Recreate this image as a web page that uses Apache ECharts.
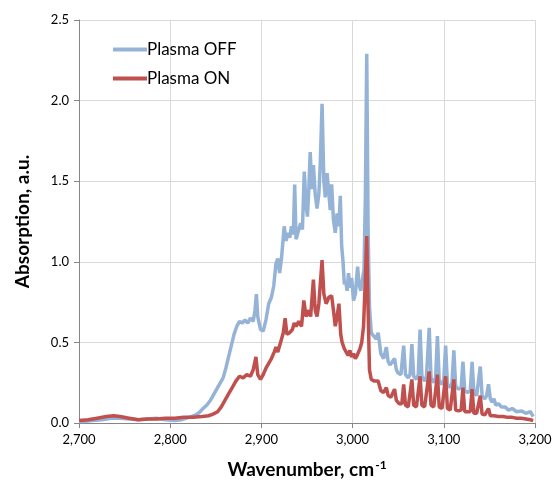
<!DOCTYPE html>
<html>
<head>
<meta charset="utf-8">
<script src="https://cdn.jsdelivr.net/npm/echarts@6/dist/echarts.min.js"></script>
<style>
  html, body { margin: 0; padding: 0; background: #fff; }
  #chart { width: 556px; height: 489px; }
</style>
</head>
<body>
<div id="chart"></div>
<script>
// tick labels
const xTicks = [2700, 2800, 2900, 3000, 3100, 3200]
const yTicks = [0, 0.5, 1.0, 1.5, 2.0, 2.5]

// Plasma OFF
const offX = [2700, 2705, 2715, 2725, 2735, 2745, 2755, 2765, 2775, 2785, 2795, 2805, 2812, 2818, 2823, 2828, 2832, 2836, 2840, 2844,
  2847, 2851, 2855, 2858, 2861, 2864, 2867, 2870, 2873, 2876, 2879, 2882, 2885, 2888, 2891, 2893, 2894.5, 2896, 2899, 2902,
  2905, 2908, 2911, 2913.5, 2916, 2918, 2920, 2922, 2925, 2927, 2929, 2931, 2933, 2935, 2936.5, 2938, 2940, 2943, 2945, 2947,
  2949, 2950.5, 2952, 2953.5, 2955.5, 2957, 2959, 2961, 2963, 2964.5, 2966.5, 2968.5, 2970, 2972, 2974, 2975.5, 2977, 2979, 2981, 2983,
  2985, 2986.5, 2988, 2989.5, 2991, 2992.5, 2994, 2995.5, 2997, 2999, 3001, 3003, 3005.5, 3007, 3009, 3011, 3012.5, 3014, 3015.5, 3017,
  3018.5, 3020.5, 3023, 3026, 3028, 3031, 3034, 3037, 3039, 3041, 3043, 3046, 3048, 3050, 3053, 3056, 3058, 3061, 3063, 3065,
  3067, 3070, 3072, 3074, 3076, 3079, 3081, 3084, 3086, 3089, 3091, 3093, 3095, 3098, 3100, 3102, 3104, 3107, 3109, 3111,
  3113, 3116, 3119, 3121, 3123, 3126, 3129, 3131, 3133, 3136, 3138, 3140, 3142, 3145, 3147, 3149, 3151, 3153, 3155, 3157,
  3160, 3163, 3167, 3171, 3175, 3180, 3185, 3190, 3195, 3198]
const offY = [0.01, 0.01, 0.015, 0.02, 0.03, 0.03, 0.025, 0.02, 0.025, 0.03, 0.02, 0.015, 0.02, 0.03, 0.04, 0.05, 0.065, 0.09, 0.11, 0.14,
  0.17, 0.21, 0.25, 0.28, 0.34, 0.41, 0.48, 0.55, 0.60, 0.63, 0.62, 0.64, 0.62, 0.65, 0.63, 0.70, 0.80, 0.66, 0.58, 0.57,
  0.64, 0.74, 0.78, 0.85, 0.99, 1.02, 0.93, 1.02, 1.22, 1.13, 1.18, 1.15, 1.22, 1.17, 1.48, 1.14, 1.15, 1.24, 1.20, 1.56,
  1.35, 1.28, 1.45, 1.68, 1.45, 1.60, 1.42, 1.33, 1.42, 1.60, 1.98, 1.50, 1.40, 1.55, 1.42, 1.32, 1.48, 1.26, 1.18, 1.30,
  1.22, 1.41, 1.10, 1.00, 0.86, 0.88, 0.82, 0.93, 0.84, 0.90, 0.76, 0.80, 0.97, 0.86, 0.82, 0.90, 0.95, 1.40, 2.29, 1.20,
  0.72, 0.56, 0.54, 0.52, 0.56, 0.43, 0.40, 0.47, 0.38, 0.36, 0.35, 0.40, 0.33, 0.31, 0.30, 0.48, 0.30, 0.28, 0.30, 0.49,
  0.29, 0.27, 0.30, 0.58, 0.29, 0.26, 0.29, 0.59, 0.28, 0.25, 0.28, 0.54, 0.26, 0.24, 0.27, 0.48, 0.24, 0.22, 0.25, 0.45,
  0.23, 0.21, 0.22, 0.38, 0.20, 0.19, 0.20, 0.38, 0.19, 0.17, 0.18, 0.35, 0.17, 0.15, 0.17, 0.24, 0.15, 0.13, 0.15, 0.11,
  0.12, 0.10, 0.10, 0.08, 0.09, 0.07, 0.075, 0.06, 0.07, 0.04]

// Plasma ON
const onX = [2700, 2710, 2720, 2730, 2738, 2745, 2755, 2765, 2775, 2785, 2795, 2805, 2815, 2825, 2835, 2842, 2847, 2852, 2856, 2860,
  2864, 2868, 2872, 2876, 2880, 2884, 2888, 2891, 2894, 2896, 2899, 2902, 2905, 2908, 2911, 2914, 2916, 2918, 2921, 2924,
  2926, 2928, 2931, 2934, 2936, 2938, 2941, 2944, 2946.5, 2949, 2952, 2954, 2957, 2959, 2961, 2963, 2966.5, 2968.5, 2971, 2974,
  2977, 2979, 2981, 2983, 2985, 2987, 2988.5, 2991, 2993, 2995, 2997, 2999, 3001, 3003, 3005, 3008, 3010, 3012, 3014, 3015.5,
  3017, 3018.5, 3020.5, 3024, 3028, 3031, 3034, 3037, 3039, 3042, 3046, 3048, 3051, 3054, 3056, 3058, 3061, 3063, 3065, 3067,
  3070, 3072, 3074, 3076, 3079, 3081, 3084, 3086, 3089, 3091, 3093, 3095, 3098, 3100, 3102, 3104, 3107, 3109, 3111, 3113,
  3116, 3119, 3121, 3123, 3126, 3129, 3131, 3133, 3136, 3138, 3140, 3142, 3145, 3147, 3149, 3151, 3155, 3160, 3165, 3170,
  3175, 3180, 3185, 3190, 3195, 3198]
const onY = [0.015, 0.02, 0.03, 0.04, 0.045, 0.04, 0.03, 0.02, 0.025, 0.025, 0.03, 0.03, 0.035, 0.035, 0.04, 0.045, 0.055, 0.07, 0.10, 0.14,
  0.18, 0.22, 0.26, 0.29, 0.28, 0.30, 0.29, 0.33, 0.41, 0.30, 0.27, 0.30, 0.34, 0.37, 0.40, 0.44, 0.47, 0.44, 0.50, 0.56,
  0.65, 0.55, 0.56, 0.58, 0.62, 0.60, 0.63, 0.60, 0.76, 0.66, 0.70, 0.66, 0.89, 0.70, 0.66, 0.74, 1.01, 0.80, 0.74, 0.78,
  0.79, 0.70, 0.60, 0.66, 0.74, 0.55, 0.50, 0.46, 0.44, 0.42, 0.45, 0.41, 0.43, 0.40, 0.42, 0.46, 0.50, 0.60, 0.90, 1.16,
  0.70, 0.33, 0.27, 0.26, 0.26, 0.20, 0.19, 0.22, 0.17, 0.16, 0.21, 0.14, 0.12, 0.12, 0.24, 0.11, 0.10, 0.11, 0.27, 0.11,
  0.10, 0.11, 0.29, 0.11, 0.10, 0.11, 0.32, 0.11, 0.10, 0.11, 0.30, 0.10, 0.09, 0.10, 0.29, 0.09, 0.08, 0.09, 0.27, 0.08,
  0.075, 0.08, 0.22, 0.07, 0.07, 0.07, 0.21, 0.06, 0.06, 0.065, 0.17, 0.055, 0.05, 0.06, 0.09, 0.045, 0.045, 0.04, 0.04, 0.035,
  0.035, 0.03, 0.03, 0.025, 0.02, 0.015]

const pairs = (xs, ys) => xs.map((x, i) => [x, ys[i]])

const font = 'Lato, "Open Sans", sans-serif'
const chart = echarts.init(document.getElementById('chart'))
chart.setOption({
  animation: false,
  textStyle: { fontFamily: font },
  grid: { left: 79, right: 21, top: 20, bottom: 66 },
  legend: {
    left: 108,
    top: 36,
    orient: 'vertical',
    itemGap: 12,
    itemWidth: 34,
    itemHeight: 4,
    icon: 'rect',
    textStyle: { fontSize: 17, color: '#000', fontFamily: font, padding: [0, 0, 0, -5] },
    data: ['Plasma OFF', 'Plasma ON']
  },
  xAxis: {
    type: 'value',
    min: xTicks[0],
    max: xTicks[xTicks.length - 1],
    interval: 100,
    name: '{a|Wavenumber, cm}{b|-1}',
    nameLocation: 'middle',
    nameGap: 36,
    nameTextStyle: {
      rich: {
        a: { fontSize: 19, fontWeight: 'bold', color: '#000', fontFamily: font },
        b: { fontSize: 12, fontWeight: 'bold', color: '#000', fontFamily: font, padding: [0, 0, 10, 1] }
      }
    },
    axisLine: { lineStyle: { color: '#868686' } },
    axisTick: { show: true, length: 5, lineStyle: { color: '#868686' } },
    axisLabel: {
      fontSize: 13, color: '#000', margin: 10,
      formatter: v => v.toLocaleString('en-US')
    },
    splitLine: { lineStyle: { color: '#d9d9d9' } }
  },
  yAxis: {
    type: 'value',
    min: yTicks[0],
    max: yTicks[yTicks.length - 1],
    interval: 0.5,
    name: 'Absorption, a.u.',
    nameLocation: 'middle',
    nameGap: 47,
    nameTextStyle: { fontSize: 19, fontWeight: 'bold', color: '#000' },
    axisLine: { show: true, lineStyle: { color: '#868686' } },
    axisTick: { show: true, length: 5, lineStyle: { color: '#868686' } },
    axisLabel: { fontSize: 13, color: '#000', margin: 10, formatter: v => v.toFixed(1) },
    splitLine: { lineStyle: { color: '#d9d9d9' } }
  },
  series: [
    {
      name: 'Plasma OFF',
      type: 'line',
      data: pairs(offX, offY),
      showSymbol: false,
      color: '#95b3d7',
      lineStyle: { width: 3.5, color: '#95b3d7' }
    },
    {
      name: 'Plasma ON',
      type: 'line',
      data: pairs(onX, onY),
      showSymbol: false,
      color: '#c0504d',
      lineStyle: { width: 3.5, color: '#c0504d' }
    }
  ]
})
</script>
</body>
</html>
